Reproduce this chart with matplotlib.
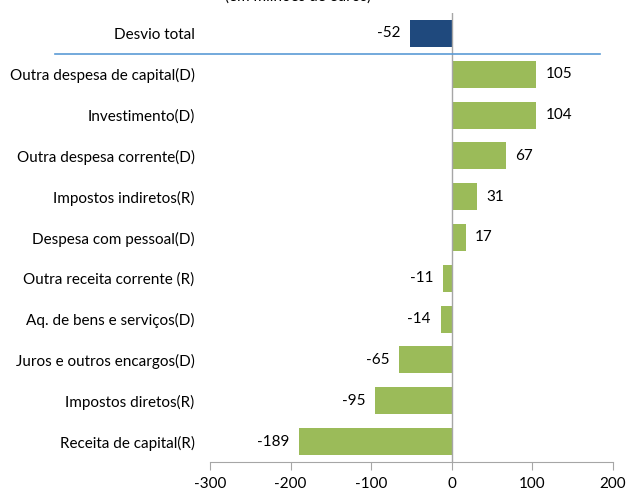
import matplotlib
matplotlib.use("Agg")
import matplotlib.pyplot as plt
import matplotlib.transforms as mtransforms

# ===================== DADOS =====================

categorias = [
    "Desvio total",
    "Outra despesa de capital(D)",
    "Investimento(D)",
    "Outra despesa corrente(D)",
    "Impostos indiretos(R)",
    "Despesa com pessoal(D)",
    "Outra receita corrente (R)",
    "Aq. de bens e serviços(D)",
    "Juros e outros encargos(D)",
    "Impostos diretos(R)",
    "Receita de capital(R)",
]
valores = [-52, 105, 104, 67, 31, 17, -11, -14, -65, -95, -189]
titulo = "(em milhões de euros)"

VERDE = "#9BBB59"
AZUL = "#1F497D"
CINZA = "#A6A6A6"
FS = 11

plt.rcParams["font.family"] = ["Lato", "DejaVu Sans"]
plt.rcParams["axes.unicode_minus"] = False

fig = plt.figure(figsize=(6.28, 4.92), dpi=100)
ax = fig.add_axes([210 / 628, 30 / 492, 403 / 628, 449 / 492])

pos = list(range(len(categorias)))
cores = [AZUL] + [VERDE] * (len(categorias) - 1)
ax.barh(pos, valores, height=0.66, color=cores, zorder=2)

for p, v in zip(pos, valores):
    if v >= 0:
        ax.annotate(f"{v}", (v, p), xytext=(7, 0), textcoords="offset points",
                    ha="left", va="center", fontsize=FS)
    else:
        ax.annotate(f"{v}", (v, p), xytext=(-7, 0), textcoords="offset points",
                    ha="right", va="center", fontsize=FS)

ax.set_xlim(-300, 200)
ax.set_ylim(len(categorias) - 0.5, -0.5)
ax.set_xticks([-300, -200, -100, 0, 100, 200])
ax.set_yticks(pos)
ax.set_yticklabels(categorias, fontsize=FS)
ax.tick_params(axis="y", length=0, pad=11)
ax.tick_params(axis="x", length=6, color=CINZA, labelsize=FS, pad=5, direction="out")

for s in ["top", "right", "left"]:
    ax.spines[s].set_visible(False)
ax.spines["bottom"].set_color(CINZA)

# linha do zero
ax.axvline(0, color=CINZA, lw=1, zorder=3)

# linha separadora azul
trans = mtransforms.blended_transform_factory(fig.transFigure, ax.transData)
ax.plot([55 / 628, 600 / 628], [0.5, 0.5], color="#5B9BD5", lw=1.2,
        transform=trans, clip_on=False, zorder=4)

# titulo cortado no topo (como no original)
fig.text(298 / 628, 1 - 4 / 492, titulo, ha="center", va="bottom", fontsize=FS)

fig.savefig("out.png", dpi=100)
